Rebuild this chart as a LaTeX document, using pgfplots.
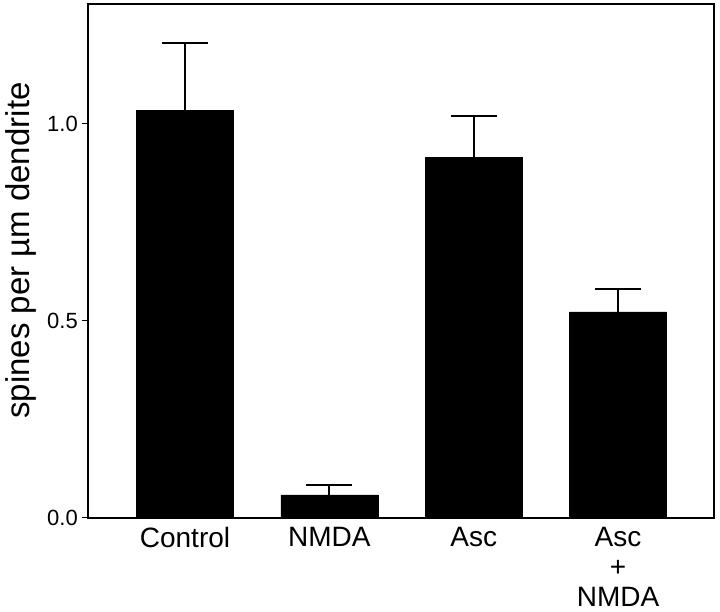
\documentclass[border=0pt]{standalone}
\usepackage{pgfplots}
\pgfplotsset{compat=1.18}
\usepackage{fontspec}
\setmainfont{Liberation Sans}
\begin{document}
\begin{tikzpicture}
\useasboundingbox (0,0) rectangle (720pt,612pt);
\begin{axis}[
    at={(88pt,94.3pt)}, anchor=south west,
    scale only axis,
    width=626pt, height=513.7pt,
    ymin=0, ymax=1.303,
    xmin=-0.672, xmax=3.665,
    axis line style={line width=1.8pt},
    tick align=outside,
    ytick pos=left,
    ytick={0,0.5,1},
    major tick length=6pt,
    ytick style={line width=1.5pt, black},
    xtick style={draw=none},
    xtick={0,1,2,3},
    xticklabels={Control, NMDA, Asc, {Asc\\+\\NMDA}},
    xticklabel style={font=\fontsize{28}{30}\selectfont, align=center, anchor=north, inner sep=0pt, yshift=-3pt},
    yticklabel style={font=\fontsize{22}{24}\selectfont, inner sep=0pt, xshift=-4pt,
        /pgf/number format/.cd, fixed, fixed zerofill, precision=1, assume math mode=true},
    ylabel={spines per \textmu m dendrite},
    ylabel style={font=\fontsize{33}{36}\selectfont, at={(axis description cs:-0.0815,0.52)}, anchor=south, inner sep=0pt},
    ybar, bar width=97pt,
  ]
  % mean and upper error (SEM)
  \addplot[
    fill=black, draw=black,
    error bars/.cd, y dir=plus, y explicit,
    error bar style={line width=2pt, black},
    error mark options={rotate=90, mark size=23pt, line width=2pt, black},
  ] coordinates {
      (0, 1.034) +- (0, 0.169)
      (1, 0.058) +- (0, 0.026)
      (2, 0.914) +- (0, 0.106)
      (3, 0.522) +- (0, 0.057)
    };
\end{axis}
\end{tikzpicture}
\end{document}
